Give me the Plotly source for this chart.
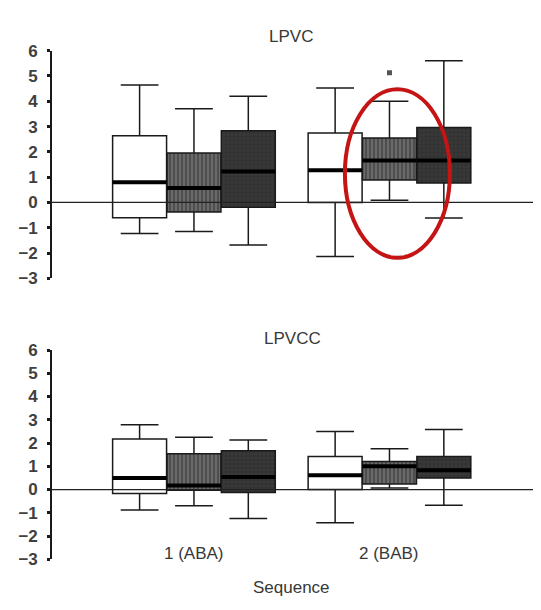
import plotly.graph_objects as go

# Sequences and treatment periods shown in each group
sequences = ["1 (ABA)", "2 (BAB)"]
seq_pos = [1, 2]
offsets = [-0.278, 0.0, 0.278]

# LPVC summary statistics: per treatment, values for sequence 1 and 2
lpvc_q1 = [[-0.60, 0.00], [-0.38, 0.89], [-0.19, 0.77]]
lpvc_med = [[0.80, 1.27], [0.57, 1.66], [1.22, 1.66]]
lpvc_q3 = [[2.64, 2.75], [1.95, 2.55], [2.83, 2.96]]
lpvc_lo = [[-1.23, -2.14], [-1.15, 0.09], [-1.68, -0.61]]
lpvc_hi = [[4.64, 4.52], [3.70, 4.00], [4.20, 5.60]]
lpvc_outlier = 5.13  # sequence 2, second treatment

# LPVCC summary statistics
lpvcc_q1 = [[-0.17, 0.00], [-0.03, 0.24], [-0.13, 0.50]]
lpvcc_med = [[0.50, 0.62], [0.17, 1.00], [0.54, 0.83]]
lpvcc_q3 = [[2.17, 1.42], [1.54, 1.21], [1.67, 1.42]]
lpvcc_lo = [[-0.88, -1.43], [-0.70, 0.07], [-1.25, -0.67]]
lpvcc_hi = [[2.79, 2.50], [2.25, 1.75], [2.13, 2.58]]

y_ticks = [-3, -2, -1, 0, 1, 2, 3, 4, 5, 6]

box_w = 0.276
fills = [None,
         dict(color="#6a6a6a", pattern=dict(shape="|", fgcolor="#2c2c2c", size=4, solidity=0.45)),
         dict(color="#3a3a3a", pattern=dict(shape="+", fgcolor="#1a1a1a", size=4, solidity=0.3))]

fig = go.Figure()

panels = [
    ("x", "y", lpvc_q1, lpvc_med, lpvc_q3, lpvc_lo, lpvc_hi),
    ("x2", "y2", lpvcc_q1, lpvcc_med, lpvcc_q3, lpvcc_lo, lpvcc_hi),
]

# patterned fills underneath the boxes
for xa, ya, q1, med, q3, lo, hi in panels:
    for t in range(3):
        if fills[t] is None:
            continue
        xs = [p + offsets[t] for p in seq_pos]
        fig.add_trace(go.Bar(
            x=xs, base=q1[t], y=[b - a for a, b in zip(q1[t], q3[t])],
            width=box_w, marker=dict(**fills[t], line=dict(width=0)),
            xaxis=xa, yaxis=ya, showlegend=False, hoverinfo="skip"))

# box outlines and whiskers
for xa, ya, q1, med, q3, lo, hi in panels:
    for t in range(3):
        xs = [p + offsets[t] for p in seq_pos]
        fig.add_trace(go.Box(
            x=xs, q1=q1[t], median=med[t], q3=q3[t],
            lowerfence=lo[t], upperfence=hi[t],
            width=box_w, whiskerwidth=0.7,
            fillcolor="rgba(0,0,0,0)", line=dict(color="#1a1a1a", width=1.5),
            xaxis=xa, yaxis=ya, showlegend=False, boxpoints=False))

# heavy median bars
for xa, ya, q1, med, q3, lo, hi in panels:
    for t in range(3):
        for g, p in enumerate(seq_pos):
            c = p + offsets[t]
            fig.add_trace(go.Scatter(
                x=[c - box_w / 2, c + box_w / 2], y=[med[t][g], med[t][g]],
                mode="lines", line=dict(color="#000", width=4),
                xaxis=xa, yaxis=ya, showlegend=False, hoverinfo="skip"))

# outlying observation
fig.add_trace(go.Scatter(
    x=[seq_pos[1] + offsets[1]], y=[lpvc_outlier], mode="markers",
    marker=dict(symbol="square", size=5, color="#555"),
    xaxis="x", yaxis="y", showlegend=False))

xrange = [0.274, 2.734]
xdom = [52 / 541, 533 / 541]
yaxis_style = dict(
    range=[-3, 6], tickvals=y_ticks, showgrid=False, zeroline=False,
    showline=True, linecolor="#1a1a1a", linewidth=1.6, ticks="outside",
    ticklen=3, tickwidth=3, tickcolor="#1a1a1a", ticklabelstandoff=6,
    tickfont=dict(family="Liberation Sans", size=17, color="#404040", weight="bold"),
)
xaxis_style = dict(range=xrange, domain=xdom, showgrid=False, zeroline=False,
                   showline=False, showticklabels=False, ticks="")

# ring highlighting sequence 2, second treatment
hx = seq_pos[1] + offsets[1]

label_font = dict(family="Liberation Sans", size=17, color="#383838")

# reference line at zero, drawn over the boxes
zero_lines = [dict(type="line", xref=f"{xa} domain", yref=ya, x0=0, x1=1, y0=0, y1=0,
                   line=dict(color="#222", width=1.3), layer="above")
              for xa, ya in (("x", "y"), ("x2", "y2"))]


def paper_label(text, px, py):
    return dict(text=text, x=px / 541, y=1 - py / 610, xref="paper", yref="paper",
                xanchor="center", yanchor="middle", showarrow=False, font=label_font)


fig.update_layout(
    width=541, height=610, margin=dict(l=0, r=0, t=0, b=0),
    paper_bgcolor="white", plot_bgcolor="white", barmode="overlay",
    xaxis=dict(**xaxis_style, anchor="y"),
    xaxis2=dict(**xaxis_style, anchor="y2"),
    yaxis=dict(**yaxis_style, domain=[1 - 278 / 610, 1 - 43 / 610], anchor="x"),
    yaxis2=dict(**yaxis_style, domain=[1 - 568 / 610, 1 - 352 / 610], anchor="x2"),
    shapes=zero_lines + [dict(type="circle", xref="x", yref="y",
                              x0=hx - 0.228, x1=hx + 0.309, y0=-2.19, y1=4.47,
                              line=dict(color="#c41414", width=4), layer="above")],
    annotations=[
        paper_label("LPVC", 291, 28),
        paper_label("LPVCC", 292, 340),
        paper_label("Sequence", 291, 597),
    ] + [
        dict(text=s, x=p, y=-2.75, xref="x2", yref="y2", xanchor="center",
             yanchor="middle", showarrow=False, font=label_font)
        for s, p in zip(sequences, seq_pos)
    ],
)

fig.write_html("out.html")
